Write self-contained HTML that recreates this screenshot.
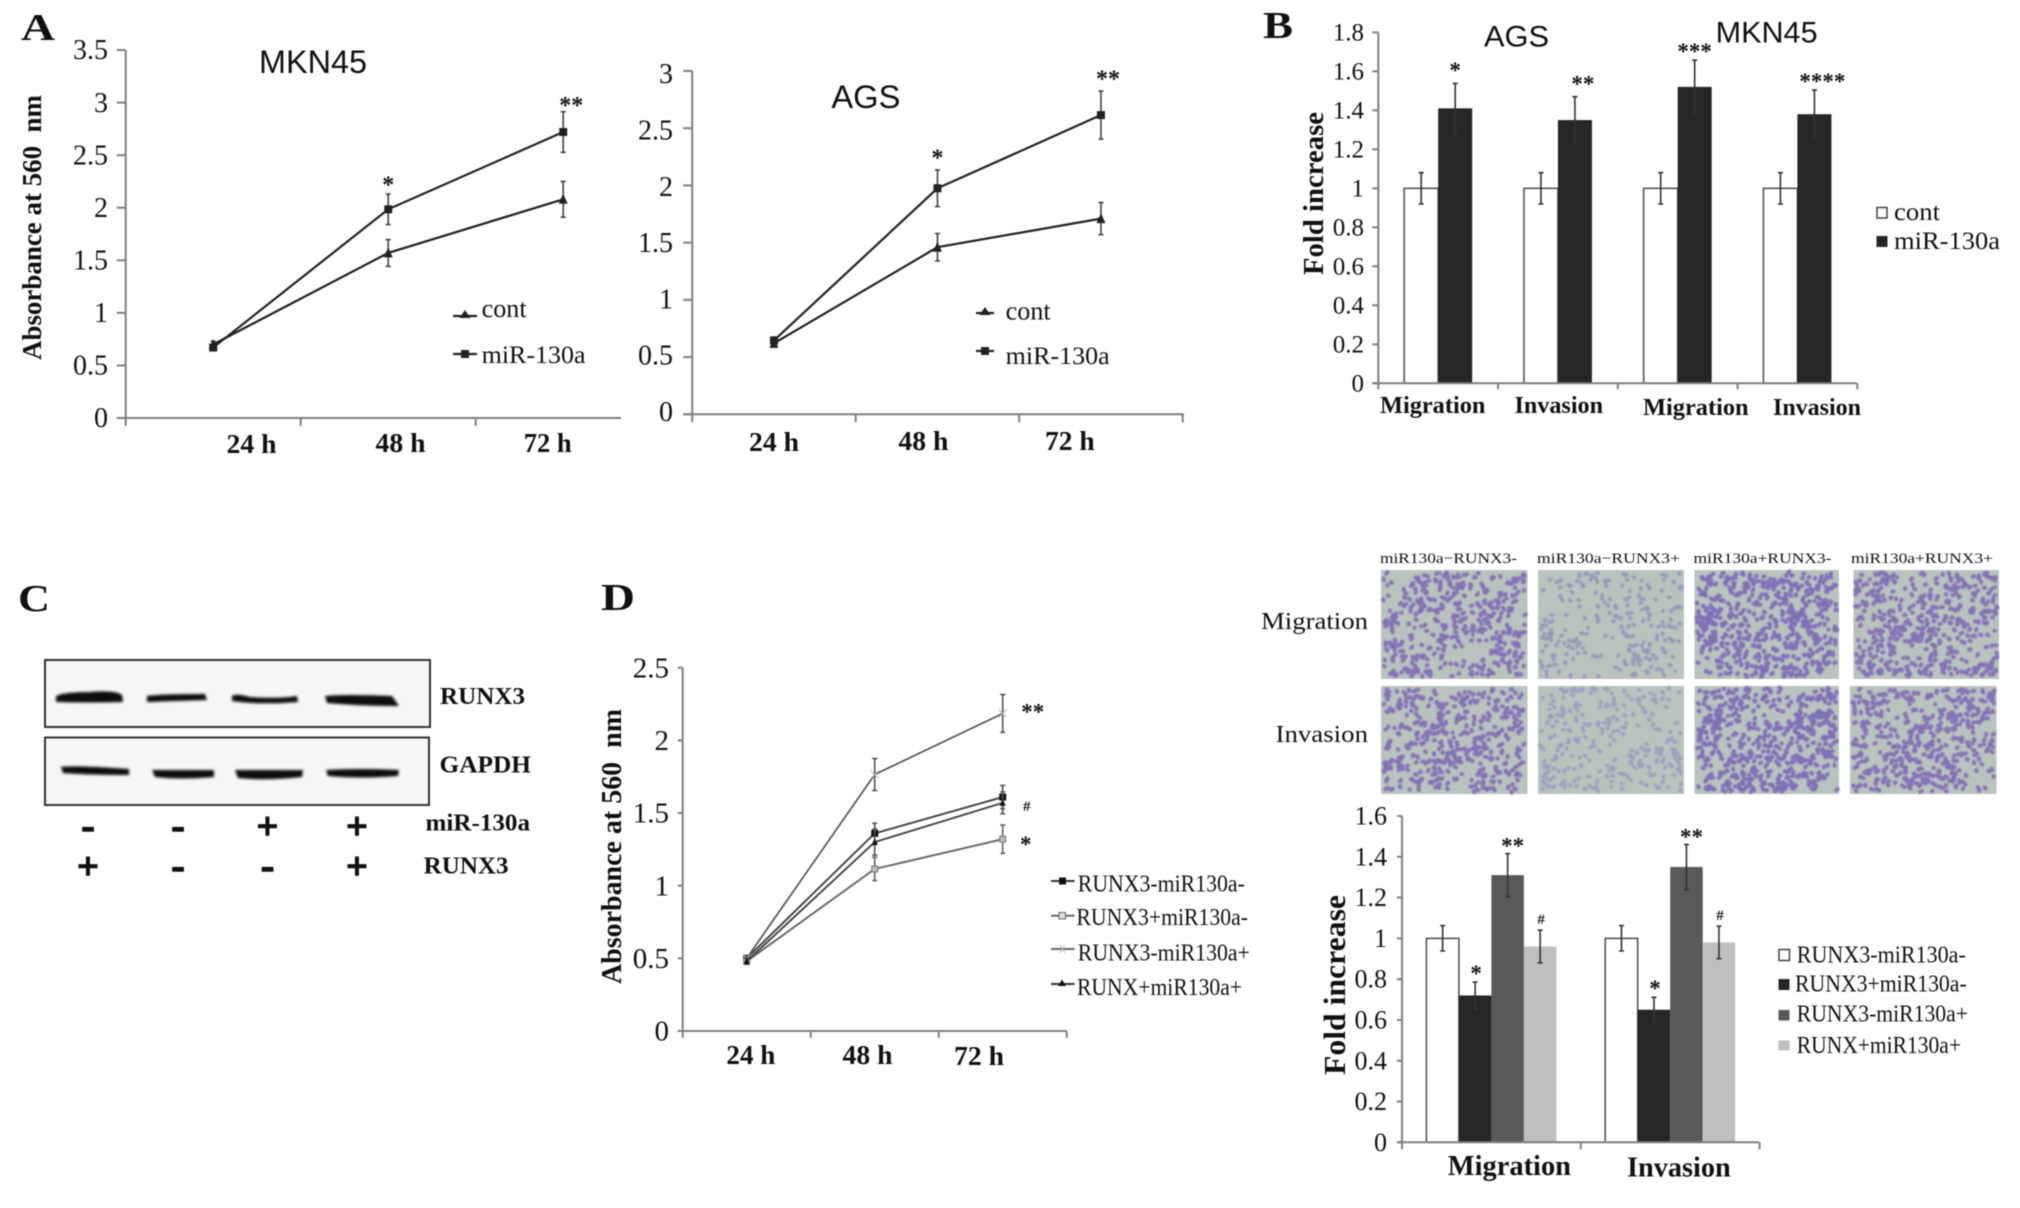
<!DOCTYPE html>
<html lang="en">
<head>
<meta charset="utf-8">
<title>miR-130a and RUNX3 figure</title>
<style>
html,body{margin:0;padding:0;background:#fff;}
svg{display:block;filter:blur(0.45px);}
text{font-family:"Liberation Serif",serif;fill:#111;white-space:pre;}
.sans{font-family:"Liberation Sans",sans-serif;}
.b{font-weight:bold;}
.sign{font-weight:bold;stroke:#111;stroke-width:1.4px;}
</style>
</head>
<body>
<svg id="figure" xmlns="http://www.w3.org/2000/svg" width="2020" height="1208" viewBox="0 0 2020 1208">
<defs>
<filter id="soft" x="-20%" y="-100%" width="140%" height="300%"><feGaussianBlur stdDeviation="1.3"/></filter>
<filter id="cellblur" x="-5%" y="-5%" width="110%" height="110%"><feGaussianBlur stdDeviation="0.9"/></filter>
</defs>
<rect width="2020" height="1208" fill="#fff"/>

<text class="b" x="21" y="40" font-size="38" textLength="34" lengthAdjust="spacingAndGlyphs">A</text>
<text class="b" x="1263" y="38" font-size="38" textLength="30" lengthAdjust="spacingAndGlyphs">B</text>
<text class="b" x="18" y="611" font-size="38" textLength="32" lengthAdjust="spacingAndGlyphs">C</text>
<text class="b" x="601" y="610" font-size="38" textLength="34" lengthAdjust="spacingAndGlyphs">D</text>

<!-- Panel A left -->
<g id="chart-a1">
<text class="sans" x="259" y="73" font-size="32" textLength="108" lengthAdjust="spacingAndGlyphs">MKN45</text>
<text class="b" x="41" y="360" font-size="27" textLength="265" lengthAdjust="spacingAndGlyphs" transform="rotate(-90 41 360)">Absorbance at 560  nm</text>
<g>
<line x1="453" x2="477" y1="316" y2="316" stroke="#222" stroke-width="2.2"/><polygon points="465,310 470.5,318 459.5,318" fill="#222"/>
<text x="481.6" y="317" font-size="26" textLength="45" lengthAdjust="spacingAndGlyphs">cont</text></g>
<g>
<line x1="453" x2="477" y1="354" y2="354" stroke="#222" stroke-width="2.2"/><rect x="461" y="350" width="8" height="8" fill="#222"/>
<text x="481.6" y="363" font-size="25" textLength="104" lengthAdjust="spacingAndGlyphs">miR-130a</text></g>
</g>

<!-- Panel A right -->
<g id="chart-a2">
<text class="sans" x="831.4" y="108" font-size="32" textLength="69" lengthAdjust="spacingAndGlyphs">AGS</text>
<g>
<line x1="976" x2="994" y1="313" y2="313" stroke="#222" stroke-width="2.2"/><polygon points="985,307 990.5,315 979.5,315" fill="#222"/>
<text x="1005.7" y="319.5" font-size="26" textLength="45" lengthAdjust="spacingAndGlyphs">cont</text></g>
<g>
<line x1="976" x2="994" y1="351" y2="351" stroke="#222" stroke-width="2.2"/><rect x="981" y="347" width="8" height="8" fill="#222"/>
<text x="1005.7" y="364" font-size="25" textLength="104" lengthAdjust="spacingAndGlyphs">miR-130a</text></g>
</g>

<!-- Panel B -->
<g id="chart-b">
<text class="sans" x="1484" y="46.7" font-size="30" textLength="65" lengthAdjust="spacingAndGlyphs">AGS</text>
<text class="sans" x="1715.6" y="42.7" font-size="30" textLength="102" lengthAdjust="spacingAndGlyphs">MKN45</text>
<text class="b" x="1323" y="275" font-size="28" textLength="163" lengthAdjust="spacingAndGlyphs" transform="rotate(-90 1323 275)">Fold increase</text>
<g>
<rect x="1877" y="207.5" width="10" height="10.5" fill="#fff" stroke="#444" stroke-width="1.5"/>
<text x="1894" y="220" font-size="25" textLength="46" lengthAdjust="spacingAndGlyphs">cont</text></g>
<g>
<rect x="1876.5" y="236" width="11" height="11" fill="#262626"/>
<text x="1894" y="249" font-size="25" textLength="106" lengthAdjust="spacingAndGlyphs">miR-130a</text></g>
</g>

<!-- Panel C western blot -->
<g id="blot">
<g>
<rect x="45" y="660" width="385" height="67" fill="#f6f6f6" stroke="#333" stroke-width="2"/>
<g filter="url(#soft)" fill="#0a0a0a">
<path d="M56 696 Q64 692 90 692 Q115 690 122 695 L123 702 Q90 703 56 702Z"/>
<path d="M147 696 Q160 694 205 694 L207 700 L147 702Z"/>
<path d="M232 696 Q236 693 250 697 Q280 699 297 696 L298 702 Q260 705 232 701Z"/>
<path d="M325 696 Q345 694 392 696 L399 706 Q360 706 327 703Z"/>
</g>
</g>
<g>
<rect x="45" y="737.5" width="384" height="67.5" fill="#f6f6f6" stroke="#333" stroke-width="2"/>
<g filter="url(#soft)" fill="#0a0a0a">
<path d="M61 767 Q75 765 129 769 L129 775 Q90 775 63 773Z"/>
<path d="M152 770 L214 770 L214 777 Q180 780 155 777Z"/>
<path d="M235 770 L303 770 L302 777 Q265 781 238 778Z"/>
<path d="M326 770 Q360 768 399 770 L398 776 Q360 779 328 776Z"/>
</g>
</g>
<text class="b" x="440" y="704" font-size="24" textLength="85" lengthAdjust="spacingAndGlyphs">RUNX3</text>
<text class="b" x="439.5" y="772.7" font-size="24" textLength="91.5" lengthAdjust="spacingAndGlyphs">GAPDH</text>
<text class="b" x="425.5" y="830.7" font-size="24" textLength="104.5" lengthAdjust="spacingAndGlyphs">miR-130a</text>
<text class="b" x="423.6" y="873.3" font-size="24" textLength="85" lengthAdjust="spacingAndGlyphs">RUNX3</text>
<text class="sign" x="88" y="839" text-anchor="middle" font-size="40">-</text>
<text class="sign" x="178" y="839" text-anchor="middle" font-size="40">-</text>
<text class="sign" x="267.5" y="839" text-anchor="middle" font-size="38">+</text>
<text class="sign" x="357" y="839" text-anchor="middle" font-size="38">+</text>
<text class="sign" x="88" y="879" text-anchor="middle" font-size="38">+</text>
<text class="sign" x="178" y="879" text-anchor="middle" font-size="40">-</text>
<text class="sign" x="267.5" y="879" text-anchor="middle" font-size="40">-</text>
<text class="sign" x="357" y="879" text-anchor="middle" font-size="38">+</text>
</g>

<!-- Panel D -->
<g id="chart-d">
<text class="b" x="621" y="984" font-size="28" textLength="275" lengthAdjust="spacingAndGlyphs" transform="rotate(-90 621 984)">Absorbance at 560  nm</text>
<g>
<line x1="1051" x2="1074.6" y1="881" y2="881" stroke="#333" stroke-width="2"/><rect x="1059" y="877.5" width="7" height="7" fill="#111"/>
<text x="1077.8" y="891.7" font-size="24" textLength="167" lengthAdjust="spacingAndGlyphs">RUNX3-miR130a-</text></g>
<g>
<line x1="1051" x2="1074.6" y1="915.7" y2="915.7" stroke="#666" stroke-width="2"/><rect x="1059" y="912.5" width="6.5" height="6.5" fill="#ddd" stroke="#666" stroke-width="1"/>
<text x="1076.4" y="925" font-size="24" textLength="171.6" lengthAdjust="spacingAndGlyphs">RUNX3+miR130a-</text></g>
<g>
<line x1="1051" x2="1074.6" y1="949" y2="949" stroke="#666" stroke-width="2"/><path d="M1060 945 l5 8 M1065 945 l-5 8" stroke="#bbb" stroke-width="1"/>
<text x="1077.8" y="960.7" font-size="24" textLength="172" lengthAdjust="spacingAndGlyphs">RUNX3-miR130a+</text></g>
<g>
<line x1="1051" x2="1074.6" y1="984" y2="984" stroke="#333" stroke-width="2"/><polygon points="1062,979.5 1066,986 1058,986" fill="#111"/>
<text x="1077" y="995" font-size="24" textLength="165" lengthAdjust="spacingAndGlyphs">RUNX+miR130a+</text></g>
</g>

<!-- Micrographs -->
<g id="micrographs">
<text x="1380" y="563" font-size="15" textLength="137" lengthAdjust="spacingAndGlyphs">miR130a−RUNX3-</text>
<text x="1537" y="563" font-size="15" textLength="143" lengthAdjust="spacingAndGlyphs">miR130a−RUNX3+</text>
<text x="1693.5" y="563" font-size="15" textLength="138" lengthAdjust="spacingAndGlyphs">miR130a+RUNX3-</text>
<text x="1851" y="563" font-size="15" textLength="142" lengthAdjust="spacingAndGlyphs">miR130a+RUNX3+</text>
<text x="1261" y="629" font-size="24" textLength="107" lengthAdjust="spacingAndGlyphs">Migration</text>
<text x="1275.5" y="742" font-size="24" textLength="92.5" lengthAdjust="spacingAndGlyphs">Invasion</text>
</g>

<!-- Panel E bars -->
<g id="chart-e">
<text class="b" x="1345" y="1075" font-size="31" textLength="180" lengthAdjust="spacingAndGlyphs" transform="rotate(-90 1345 1075)">Fold increase</text>
<g>
<rect x="1779" y="949.5" width="10.5" height="11" fill="#fff" stroke="#444" stroke-width="1.5"/>
<text x="1796.8" y="962.3" font-size="24" textLength="169" lengthAdjust="spacingAndGlyphs">RUNX3-miR130a-</text></g>
<g>
<rect x="1778.5" y="979" width="11" height="11" fill="#262626"/>
<text x="1795" y="991.7" font-size="24" textLength="171.7" lengthAdjust="spacingAndGlyphs">RUNX3+miR130a-</text></g>
<g>
<rect x="1778.5" y="1010" width="11" height="10.5" fill="#595959"/>
<text x="1796.8" y="1021.7" font-size="24" textLength="171.2" lengthAdjust="spacingAndGlyphs">RUNX3-miR130a+</text></g>
<g>
<rect x="1778.5" y="1040.5" width="11" height="10" fill="#bfbfbf"/>
<text x="1796.8" y="1053" font-size="24" textLength="164.2" lengthAdjust="spacingAndGlyphs">RUNX+miR130a+</text></g>
</g>
</svg>

<script>
// ---------- Chart data ----------
const timeCategories = ['24 h', '48 h', '72 h'];

const mknTicks = [0, 0.5, 1, 1.5, 2, 2.5, 3, 3.5];
const mknCont = [0.70, 1.57, 2.08];
const mknContErr = [0.03, 0.127, 0.17];
const mknMir = [0.67, 1.985, 2.72];
const mknMirErr = [0.03, 0.145, 0.193];
const mknStars = ['', '*', '**'];

const agsTicks = [0, 0.5, 1, 1.5, 2, 2.5, 3];
const agsCont = [0.62, 1.46, 1.71];
const agsContErr = [0.03, 0.12, 0.14];
const agsMir = [0.645, 1.975, 2.615];
const agsMirErr = [0.03, 0.16, 0.21];
const agsStars = ['', '*', '**'];

const foldTicksB = [0, 0.2, 0.4, 0.6, 0.8, 1, 1.2, 1.4, 1.6, 1.8];
const assayCategoriesB = ['Migration', 'Invasion', 'Migration', 'Invasion'];
const bCont = [1, 1, 1, 1];
const bContErr = [0.08, 0.08, 0.08, 0.08];
const bMir = [1.41, 1.35, 1.52, 1.38];
const bMirErr = [0.128, 0.12, 0.137, 0.124];
const bStars = ['*', '**', '***', '****'];

const dTicks = [0, 0.5, 1, 1.5, 2, 2.5];
const dNegNeg = [0.50, 1.36, 1.61];
const dNegNegErr = [0.02, 0.07, 0.08];
const dPosNeg = [0.48, 1.115, 1.32];
const dPosNegErr = [0.02, 0.08, 0.097];
const dNegPos = [0.50, 1.765, 2.185];
const dNegPosErr = [0.02, 0.11, 0.13];
const dPosPos = [0.48, 1.30, 1.57];
const dPosPosErr = [0.02, 0.09, 0.075];

const foldTicksE = [0, 0.2, 0.4, 0.6, 0.8, 1, 1.2, 1.4, 1.6];
const assayCategoriesE = ['Migration', 'Invasion'];
const eNegNeg = [1.0, 1.0];
const eNegNegErr = [0.062, 0.062];
const ePosNeg = [0.72, 0.65];
const ePosNegErr = [0.066, 0.061];
const eNegPos = [1.31, 1.35];
const eNegPosErr = [0.105, 0.11];
const ePosPos = [0.96, 0.98];
const ePosPosErr = [0.08, 0.08];
const eStarsNegNeg = ['', ''];
const eStarsPosNeg = ['*', '*'];
const eStarsNegPos = ['**', '**'];
const eStarsPosPos = ['#', '#'];

// ---------- Helpers ----------
const NS = 'http://www.w3.org/2000/svg';
function make(tag, parent, props) {
  const el = document.createElementNS(NS, tag);
  for (const k in props) el.setAttribute(k, props[k]);
  parent.appendChild(el);
  return el;
}
function scaleY(f) { return v => f.bottom - (v / f.yMax) * (f.bottom - f.top); }
function bandCenter(f, i) { return f.left + (i + 0.5) * f.band; }

function drawAxes(g, f, ticks, categories, catLabels) {
  const y = scaleY(f);
  const axisColor = '#7f7f7f';
  const yLine = make('line', g, { x1: f.left, x2: f.left, y1: f.top, y2: f.bottom, stroke: axisColor, 'stroke-width': 2 });
  
  
  const xLine = make('line', g, { x1: f.left - f.yTick, x2: f.axisEnd, y1: f.bottom, y2: f.bottom, stroke: axisColor, 'stroke-width': 2 });
  
  
  ticks.forEach(t => {
    const mark = make('line', g, { x1: f.left - f.yTick, x2: f.left, y1: y(t), y2: y(t), stroke: axisColor, 'stroke-width': 2 });
    
    
    const frac = t / f.yMax;
    const shift = (f.labelBottomShift || 0) * (1 - frac) + (f.labelTopShift || 0) * frac;
    const lab = make('text', g, { x: f.labelRight, y: y(t) + f.font * 0.33 + shift, 'font-size': f.font, 'text-anchor': 'end' });
    lab.textContent = String(t);
    
    
  });
  for (let i = 0; i <= categories.length; i++) {
    const x = f.left + i * f.band;
    if (x > f.axisEnd + 1) continue;
    const mark = make('line', g, { x1: x, x2: x, y1: f.bottom, y2: f.bottom + f.xTick, stroke: axisColor, 'stroke-width': 2 });
    
    
  }
  categories.forEach((c, i) => {
    const p = catLabels[i];
    const lab = make('text', g, { x: p.x, y: p.y, 'font-size': f.catFont, 'font-weight': 'bold', textLength: p.w, lengthAdjust: 'spacingAndGlyphs' });
    lab.textContent = c;
    
    
  });
}

function drawErr(g, x, yTop, yBottom, color) {
  const d = 'M' + x + ' ' + yTop + 'V' + yBottom + 'M' + (x - 2.5) + ' ' + yTop + 'h5M' + (x - 2.5) + ' ' + yBottom + 'h5';
  const err = make('path', g, { d: d, stroke: color, 'stroke-width': 1.6, fill: 'none' });
  
  
}

function drawStar(g, str, x, cy, size) {
  if (!str) return;
  const sz = str === '#' ? 15 : size;
  const base = str === '#' ? cy + sz * 0.33 : cy + sz * 0.47;
  const s = make('text', g, { x: x, y: base, 'font-size': sz, 'text-anchor': 'middle', 'font-weight': 'bold' });
  s.textContent = str;
  
  
}

function drawLineSeries(g, f, values, errors, style) {
  const y = scaleY(f);
  const pts = values.map((v, i) => bandCenter(f, i) + ',' + y(v)).join(' ');
  const line = make('polyline', g, { points: pts, fill: 'none', stroke: style.color, 'stroke-width': style.width });
  
  
  values.forEach((v, i) => {
    const cx = bandCenter(f, i), cy = y(v);
    drawErr(g, cx, y(v + errors[i]), y(v - errors[i]), style.errColor);
    let m;
    const r = style.size;
    if (style.marker === 'square') {
      m = make('rect', g, { x: cx - r, y: cy - r, width: 2 * r, height: 2 * r, fill: style.fill, stroke: style.markerStroke, 'stroke-width': 1 });
    } else if (style.marker === 'triangle') {
      m = make('polygon', g, { points: cx + ',' + (cy - r - 1) + ' ' + (cx + r) + ',' + (cy + r) + ' ' + (cx - r) + ',' + (cy + r), fill: style.fill });
    } else {
      m = make('path', g, { d: 'M' + (cx - r) + ' ' + (cy - r) + 'L' + (cx + r) + ' ' + (cy + r) + 'M' + (cx + r) + ' ' + (cy - r) + 'L' + (cx - r) + ' ' + (cy + r), stroke: style.fill, 'stroke-width': 1 });
    }
    
    
  });
}

function drawBars(g, f, seriesList, errList, styles, barWidth) {
  const y = scaleY(f);
  const n = seriesList.length;
  seriesList.forEach((vals, s) => {
    vals.forEach((v, i) => {
      const x = bandCenter(f, i) - n * barWidth / 2 + s * barWidth;
      const bar = make('rect', g, { x: x, y: y(v), width: barWidth, height: f.bottom - y(v), fill: styles[s].fill, stroke: styles[s].stroke || 'none', 'stroke-width': 1.6 });
      
      
    });
  });
  seriesList.forEach((vals, s) => {
    vals.forEach((v, i) => {
      const x = bandCenter(f, i) - n * barWidth / 2 + (s + 0.5) * barWidth;
      drawErr(g, x, y(v + errList[s][i]), y(v - errList[s][i]), '#333');
    });
  });
}

// ---------- Panel A left ----------
const frameA1 = { left: 125.7, top: 50, bottom: 418, yMax: 3.5, band: 175, axisEnd: 621, labelRight: 108, font: 28, catFont: 27, yTick: 9, xTick: 8 };
const gA1 = document.getElementById('chart-a1');
drawAxes(gA1, frameA1, mknTicks, timeCategories, [{ x: 226.5, y: 453, w: 50 }, { x: 375.5, y: 452, w: 50 }, { x: 523.7, y: 452, w: 48 }]);
drawLineSeries(gA1, frameA1, mknCont, mknContErr, { color: '#222', width: 2.2, errColor: '#444', marker: 'triangle', fill: '#222', size: 4.5 });
drawLineSeries(gA1, frameA1, mknMir, mknMirErr, { color: '#222', width: 2.2, errColor: '#444', marker: 'square', fill: '#222', markerStroke: '#222', size: 3.5 });
mknStars.forEach((s, i) => drawStar(gA1, s, bandCenter(frameA1, i) + (s.length > 1 ? 8 : 0), scaleY(frameA1)(mknMir[i] + mknMirErr[i]) - (s.length > 1 ? 10 : 13), 24));

// ---------- Panel A right ----------
const frameA2 = { left: 692.2, top: 71, bottom: 414.3, yMax: 3, band: 163.5, axisEnd: 1183.7, labelRight: 673, font: 28, catFont: 27, yTick: 9, xTick: 8, labelTopShift: 3, labelBottomShift: -2.6 };
const gA2 = document.getElementById('chart-a2');
drawAxes(gA2, frameA2, agsTicks, timeCategories, [{ x: 749, y: 451, w: 50 }, { x: 898.4, y: 450, w: 50 }, { x: 1045, y: 450, w: 49.7 }]);
drawLineSeries(gA2, frameA2, agsCont, agsContErr, { color: '#222', width: 2.2, errColor: '#444', marker: 'triangle', fill: '#222', size: 4.5 });
drawLineSeries(gA2, frameA2, agsMir, agsMirErr, { color: '#222', width: 2.2, errColor: '#444', marker: 'square', fill: '#222', markerStroke: '#222', size: 3.5 });
agsStars.forEach((s, i) => drawStar(gA2, s, bandCenter(frameA2, i) + (s.length > 1 ? 7 : 0), scaleY(frameA2)(agsMir[i] + agsMirErr[i]) - 16, 24));

// ---------- Panel B ----------
const frameB = { left: 1378.3, top: 32.3, bottom: 383.3, yMax: 1.8, band: 119.75, axisEnd: 1857, labelRight: 1364, font: 25, catFont: 24, yTick: 6, xTick: 6 };
const gB = document.getElementById('chart-b');
drawBars(gB, frameB, [bCont, bMir], [bContErr, bMirErr], [{ fill: '#fff', stroke: '#555' }, { fill: '#262626' }], 34);
drawAxes(gB, frameB, foldTicksB, assayCategoriesB, [{ x: 1380, y: 413, w: 105.4 }, { x: 1514.5, y: 413, w: 88.5 }, { x: 1643, y: 415, w: 105.6 }, { x: 1773, y: 415, w: 88 }]);
bStars.forEach((s, i) => {
  const cx = bandCenter(frameB, i) + 17;
  const nudge = s.length % 2 === 0 ? 8 : 0;
  drawStar(gB, s, cx + nudge, scaleY(frameB)(bMir[i] + bMirErr[i]) - (s.length > 2 ? 12 : 16), 23);
});

// ---------- Panel D ----------
const frameD = { left: 682.7, top: 667.7, bottom: 1031, yMax: 2.5, band: 128, axisEnd: 1066.6, labelRight: 669, font: 29, catFont: 27, yTick: 5, xTick: 7 };
const gD = document.getElementById('chart-d');
drawAxes(gD, frameD, dTicks, timeCategories, [{ x: 726.4, y: 1064, w: 49 }, { x: 842.5, y: 1064, w: 50 }, { x: 954, y: 1065, w: 50 }]);
drawLineSeries(gD, frameD, dNegNeg, dNegNegErr, { color: '#444', width: 1.9, errColor: '#555', marker: 'square', fill: '#111', markerStroke: '#111', size: 3 });
drawLineSeries(gD, frameD, dPosNeg, dPosNegErr, { color: '#666', width: 1.9, errColor: '#666', marker: 'square', fill: '#bbb', markerStroke: '#777', size: 3 });
drawLineSeries(gD, frameD, dNegPos, dNegPosErr, { color: '#555', width: 1.7, errColor: '#555', marker: 'cross', fill: '#bbb', size: 4 });
drawLineSeries(gD, frameD, dPosPos, dPosPosErr, { color: '#444', width: 1.9, errColor: '#555', marker: 'triangle', fill: '#111', size: 3 });
drawStar(gD, '**', bandCenter(frameD, 2) + 30, scaleY(frameD)(dNegPos[2]) - 5, 23);
drawStar(gD, '#', bandCenter(frameD, 2) + 24, scaleY(frameD)(dPosPos[2]) + 3, 15);
drawStar(gD, '*', bandCenter(frameD, 2) + 23, scaleY(frameD)(dPosNeg[2]) + 2, 23);

// ---------- Panel E ----------
const frameE = { left: 1402, top: 816, bottom: 1142.3, yMax: 1.6, band: 178.8, axisEnd: 1759, labelRight: 1387, font: 26, catFont: 28, yTick: 5, xTick: 7 };
const gE = document.getElementById('chart-e');
const eStyles = [{ fill: '#fff', stroke: '#555' }, { fill: '#262626' }, { fill: '#595959' }, { fill: '#bfbfbf' }];
const eSeries = [eNegNeg, ePosNeg, eNegPos, ePosPos];
const eErrors = [eNegNegErr, ePosNegErr, eNegPosErr, ePosPosErr];
const eStars = [eStarsNegNeg, eStarsPosNeg, eStarsNegPos, eStarsPosPos];
drawBars(gE, frameE, eSeries, eErrors, eStyles, 32.5);
drawAxes(gE, frameE, foldTicksE, assayCategoriesE, [{ x: 1447.8, y: 1175, w: 123.2 }, { x: 1627, y: 1176.7, w: 103.7 }]);
eStars.forEach((list, s) => list.forEach((str, i) => {
  const cx = bandCenter(frameE, i) - 2 * 32.5 + (s + 0.5) * 32.5;
  const top = scaleY(frameE)(eSeries[s][i] + eErrors[s][i]);
  drawStar(gE, str, cx + (str === '**' ? 5 : 1), top - (s === 1 ? 12 : 11), 23);
}));

// ---------- Micrographs (decorative cell texture, seeded) ----------
const gM = document.getElementById('micrographs');
function seeded(seed) {
  let s = seed >>> 0;
  return function () { s = (s * 1664525 + 1013904223) >>> 0; return s / 4294967296; };
}
function micrograph(x, y, w, h, count, color, seed, size) {
  const rnd = seeded(seed);
  const bg = make('rect', gM, { x: x, y: y, width: w, height: h, fill: '#b9c3bd' });
  
  
  const p1 = rnd() * 6, p2 = rnd() * 6, p3 = rnd() * 6;
  let d = '';
  let placed = 0, guard = 0;
  while (placed < count && guard < count * 20) {
    guard++;
    const u = rnd(), v = rnd();
    const field = 0.55 + 0.3 * Math.sin(u * 7 + p1) * Math.cos(v * 6 + p2) + 0.2 * Math.sin((u + v) * 11 + p3);
    if (rnd() > field + 0.2) continue;
    const px = x + 2.5 + u * (w - 5), py = y + 2.5 + v * (h - 5);
    d += 'M' + px.toFixed(1) + ' ' + py.toFixed(1) + 'l' + ((rnd() - 0.5) * 3).toFixed(1) + ' ' + ((rnd() - 0.5) * 3).toFixed(1);
    placed++;
  }
  const cells = make('path', gM, { d: d, stroke: color, 'stroke-width': size, 'stroke-linecap': 'round', fill: 'none', filter: 'url(#cellblur)', opacity: 0.9 });
  
  
}
micrograph(1381, 570, 146.5, 109, 430, '#7f6ab6', 11, 4);
micrograph(1538, 570, 146, 109, 230, '#9096b8', 23, 3.6);
micrograph(1694.5, 570, 144.5, 109, 560, '#7a68b8', 37, 4);
micrograph(1853.5, 570, 145.5, 109, 450, '#7f6ab6', 41, 4);
micrograph(1381, 686, 146.5, 108, 430, '#7f6ab6', 53, 4);
micrograph(1538, 686, 146, 108, 270, '#989dbe', 67, 3.6);
micrograph(1694.5, 686, 144.5, 108, 540, '#7a68b8', 71, 4);
micrograph(1850, 686, 146.5, 108, 450, '#7f6ab6', 83, 4);
</script>
</body>
</html>
